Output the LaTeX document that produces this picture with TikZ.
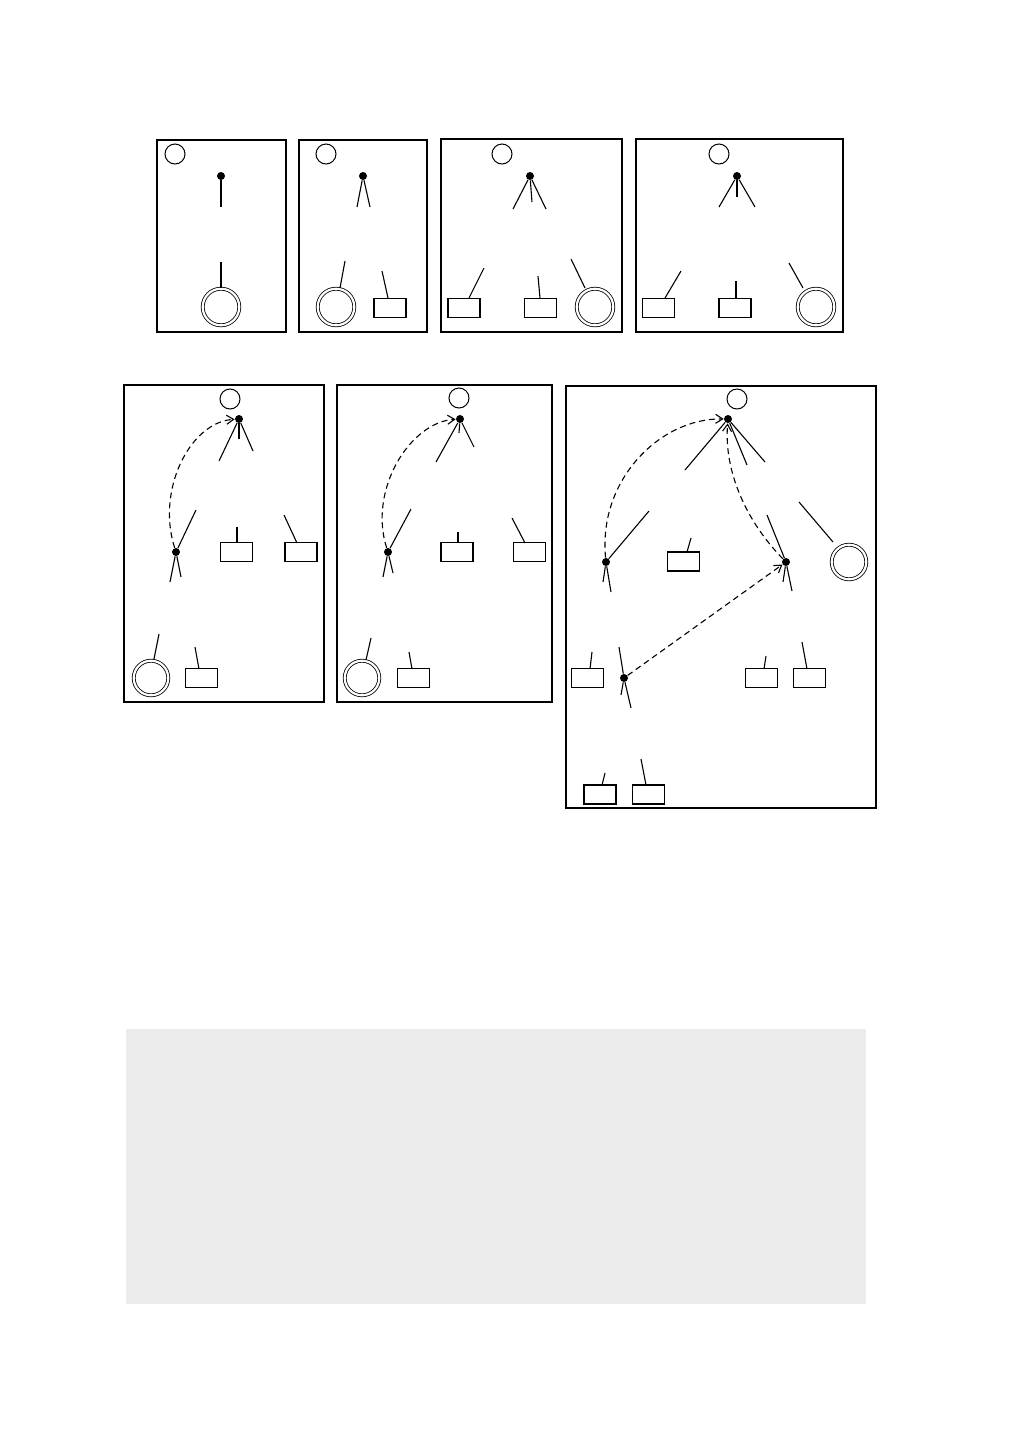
\documentclass[tikz,border=0pt]{standalone}
\usetikzlibrary{arrows.meta}
\definecolor{panelgray}{HTML}{EBEBEB}
\begin{document}
\begin{tikzpicture}[x=0.5pt,y=-0.5pt,
  panel/.style={draw=black, line width=0.9pt},
  stub/.style={line width=0.55pt},
  dot/.style={circle, fill=black, inner sep=0pt, minimum size=4pt},
  small/.style={circle, draw, line width=0.5pt, inner sep=0pt, minimum size=10pt},
  final/.style={circle, draw, double, double distance=1.1pt, line width=0.4pt, inner sep=0pt, minimum size=18.3pt},
  box/.style={rectangle, draw, line width=0.55pt, inner sep=0pt, minimum width=16pt, minimum height=9.5pt},
  link/.style={dashed, line width=0.55pt, dash pattern=on 3pt off 2pt, -{Straight Barb[length=3.5pt,width=4.5pt]}}]
\useasboundingbox (0,0) rectangle (1009,1441);

% ---------- Panel 1 ----------
\draw[panel] (157,140) rectangle (286,332);
\node[small] (a1) at (175,154) {};
\node[dot] (a2) at (221,176) {};
\node[final] (a3) at (221,307) {};
\draw[stub] (a2) -- (221,207);
\draw[stub] (221,262) -- (a3);

% ---------- Panel 2 ----------
\draw[panel] (299,140) rectangle (427,332);
\node[small] (b1) at (326,154) {};
\node[dot] (b2) at (363,176) {};
\node[final] (b3) at (336,307) {};
\node[box] (b4) at (390,308) {};
\draw[stub] (b2) -- (357,207);
\draw[stub] (b2) -- (370,207);
\draw[stub] (345,261) -- (340,288);
\draw[stub] (382,271) -- (388,298);

% ---------- Panel 3 ----------
\draw[panel] (441,139) rectangle (622,332);
\node[small] (c1) at (502,154) {};
\node[dot] (c2) at (530,176) {};
\node[box] (c3) at (464,308) {};
\node[box] (c4) at (540.5,308) {};
\node[final] (c5) at (595,307) {};
\draw[stub] (c2) -- (513,209);
\draw[stub] (c2) -- (532,202);
\draw[stub] (c2) -- (546,209);
\draw[stub] (484,268) -- (469,298);
\draw[stub] (538,276) -- (540,298);
\draw[stub] (571,259) -- (585,288);

% ---------- Panel 4 ----------
\draw[panel] (636,139) rectangle (843,332);
\node[small] (d1) at (719,154) {};
\node[dot] (d2) at (737,176) {};
\node[box] (d3) at (658.5,308) {};
\node[box] (d4) at (735,308) {};
\node[final] (d5) at (816,307) {};
\draw[stub] (d2) -- (719,207);
\draw[stub] (d2) -- (737,197);
\draw[stub] (d2) -- (755,207);
\draw[stub] (681,271) -- (665,298);
\draw[stub] (736,281) -- (736,298);
\draw[stub] (789,263) -- (803,288);

% ---------- Panel 5 ----------
\draw[panel] (124,385) rectangle (324,702);
\node[small] (e1) at (230,399) {};
\node[dot] (e2) at (239,419) {};
\node[dot] (e3) at (176,552) {};
\node[box] (e4) at (236.5,552) {};
\node[box] (e5) at (301,552) {};
\node[final, minimum size=17.3pt] (e6) at (151,678) {};
\node[box] (e7) at (201.5,678) {};
\draw[stub] (e2) -- (219,461);
\draw[stub] (e2) -- (239,439);
\draw[stub] (e2) -- (253,451);
\draw[stub] (e3) -- (196,510);
\draw[stub] (e3) -- (170,582);
\draw[stub] (e3) -- (181,577);
\draw[stub] (237,527) -- (237,543);
\draw[stub] (284,515) -- (297,543);
\draw[stub] (159,634) -- (154,659);
\draw[stub] (195,647) -- (199,669);
\draw[link] (e3) .. controls (156,490) and (190,422) .. (e2);

% ---------- Panel 6 ----------
\draw[panel] (337,385) rectangle (552,702);
\node[small] (f1) at (459,398) {};
\node[dot] (f2) at (460,419) {};
\node[dot] (f3) at (388,552) {};
\node[box] (f4) at (457,552) {};
\node[box] (f5) at (529.5,552) {};
\node[final, minimum size=17.3pt] (f6) at (362,678) {};
\node[box] (f7) at (413.5,678) {};
\draw[stub] (f2) -- (436,462);
\draw[stub] (f2) -- (459,433);
\draw[stub] (f2) -- (474,447);
\draw[stub] (f3) -- (411,509);
\draw[stub] (f3) -- (383,577);
\draw[stub] (f3) -- (393,573);
\draw[stub] (458,532) -- (458,543);
\draw[stub] (512,518) -- (525,543);
\draw[stub] (371,638) -- (366,660);
\draw[stub] (409,652) -- (412,669);
\draw[link] (f3) .. controls (368,490) and (410,422) .. (f2);

% ---------- Panel 7 ----------
\draw[panel] (566,386) rectangle (876,808);
\node[small] (g1) at (737,399) {};
\node[dot] (g2) at (728,419) {};
\node[dot] (g3) at (606,562) {};
\node[box] (g4) at (683.5,561.5) {};
\node[dot] (g5) at (786,562) {};
\node[final, minimum size=17.3pt] (g6) at (849,562) {};
\node[dot] (g7) at (624,678) {};
\node[box] (g8) at (587.5,678) {};
\node[box] (g9) at (761.5,678) {};
\node[box] (g10) at (809.5,678) {};
\node[box] (g11) at (600,794.5) {};
\node[box] (g12) at (648.5,794.5) {};
\draw[stub] (g2) -- (685,470);
\draw[stub] (g2) -- (747,465);
\draw[stub] (g2) -- (765,462);
\draw[stub] (g3) -- (649,511);
\draw[stub] (g3) -- (603,582);
\draw[stub] (g3) -- (611,592);
\draw[stub] (691,538) -- (687,552);
\draw[stub] (g5) -- (767,515);
\draw[stub] (g5) -- (792,591);
\draw[stub] (g5) -- (783,582);
\draw[stub] (799,502) -- (833,542);
\draw[stub] (g7) -- (619,647);
\draw[stub] (g7) -- (631,708);
\draw[stub] (g7) -- (621,695);
\draw[stub] (592,652) -- (590,669);
\draw[stub] (766,656) -- (764,669);
\draw[stub] (802,642) -- (807,669);
\draw[stub] (605,773) -- (602,785);
\draw[stub] (641,759) -- (646,785);
\draw[link] (g3) .. controls (598,480) and (660,418) .. (g2);
\draw[link] (g5) .. controls (745,520) and (724,470) .. (g2);
\draw[link] (g7) -- (g5);

% ---------- Gray area ----------
\fill[panelgray] (126,1029) rectangle (866,1304);
\end{tikzpicture}
\end{document}
